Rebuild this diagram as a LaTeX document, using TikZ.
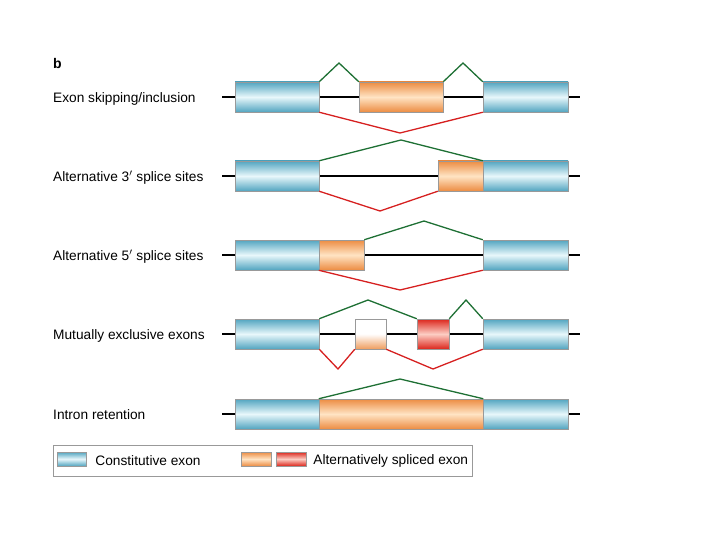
\documentclass[tikz,border=0pt]{standalone}
\usepackage{fontspec}
\setmainfont{Liberation Sans}
\usetikzlibrary{positioning}

\definecolor{exblue}{RGB}{82,165,192}
\definecolor{exblueL}{RGB}{232,247,251}
\definecolor{exorange}{RGB}{236,140,66}
\definecolor{exorangeL}{RGB}{255,228,196}
\definecolor{exred}{RGB}{220,38,28}
\definecolor{exredL}{RGB}{252,205,195}
\definecolor{spgreen}{RGB}{30,112,52}
\definecolor{spred}{RGB}{214,32,32}

\tikzset{
  exon/.style={draw=black!40, line width=0.5pt, minimum height=30pt, inner sep=0pt},
  constit/.style={exon, top color=exblue, bottom color=exblue, middle color=exblueL},
  altex/.style={exon, top color=exorange, bottom color=exorange, middle color=exorangeL},
  altred/.style={exon, top color=exred, bottom color=exred, middle color=exredL},
  altpale/.style={exon, top color=white, bottom color=exorange!85, middle color=white},
  intron/.style={line width=1.2pt},
  incl/.style={spgreen, line width=1.3pt},
  skip/.style={spred, line width=1.3pt},
  rowlabel/.style={anchor=west, inner sep=0pt, font=\fontsize{13.7}{16}\selectfont}
}

\begin{document}
\begin{tikzpicture}[x=1pt,y=-1pt]
\useasboundingbox (0,0) rectangle (720,540);

\node[anchor=west, inner sep=0pt, font=\fontsize{14}{16}\selectfont\bfseries] (panel) at (53,63) {b};

% Exon skipping/inclusion
\node[rowlabel] (lab1) at (53,99) {Exon skipping/inclusion};
\coordinate (l1) at (222,97);
\coordinate (r1) at (580,97);
\draw[intron] (l1)--(r1);
\node[constit, minimum width=84pt] (c1a) at (277,97) {};
\node[altex, minimum width=84pt] (a1) at (401,97) {};
\node[constit, minimum width=85pt] (c1b) at (525.5,97) {};
\coordinate (p1a) at (339,63);
\coordinate (p1b) at (463,63);
\coordinate (v1) at (400,133);
\draw[incl] (c1a.north east)--(p1a)--(a1.north west);
\draw[incl] (a1.north east)--(p1b)--(c1b.north west);
\draw[skip] (c1a.south east)--(v1)--(c1b.south west);

% Alternative 3' splice sites
\node[rowlabel] (lab2) at (53,178) {Alternative 3$'$ splice sites};
\coordinate (l2) at (222,176);
\coordinate (r2) at (580,176);
\draw[intron] (l2)--(r2);
\node[constit, minimum width=84pt] (c2a) at (277,176) {};
\node[altex, minimum width=45pt] (a2) at (460.5,176) {};
\node[constit, minimum width=85pt] (c2b) at (525.5,176) {};
\coordinate (p2) at (401,140);
\coordinate (v2) at (380,211);
\draw[incl] (c2a.north east)--(p2)--(c2b.north west);
\draw[skip] (c2a.south east)--(v2)--(a2.south west);

% Alternative 5' splice sites
\node[rowlabel] (lab3) at (53,257) {Alternative 5$'$ splice sites};
\coordinate (l3) at (222,255);
\coordinate (r3) at (580,255);
\draw[intron] (l3)--(r3);
\node[constit, minimum width=84pt] (c3a) at (277,255) {};
\node[altex, minimum width=45pt] (a3) at (341.5,255) {};
\node[constit, minimum width=85pt] (c3b) at (525.5,255) {};
\coordinate (p3) at (424,221);
\coordinate (v3) at (400,290);
\draw[incl] (a3.north east)--(p3)--(c3b.north west);
\draw[skip] (a3.south west)--(v3)--(c3b.south west);

% Mutually exclusive exons
\node[rowlabel] (lab4) at (53,336) {Mutually exclusive exons};
\coordinate (l4) at (222,334);
\coordinate (r4) at (580,334);
\draw[intron] (l4)--(r4);
\node[constit, minimum width=84pt] (c4a) at (277,334) {};
\node[altpale, minimum width=31pt] (a4) at (370.5,334) {};
\node[altred, minimum width=32pt] (m4) at (433,334) {};
\node[constit, minimum width=85pt] (c4b) at (525.5,334) {};
\coordinate (p4a) at (368,300);
\coordinate (p4b) at (466,300);
\coordinate (v4a) at (338,369);
\coordinate (v4b) at (433,369);
\draw[incl] (c4a.north east)--(p4a)--(m4.north west);
\draw[incl] (m4.north east)--(p4b)--(c4b.north west);
\draw[skip] (c4a.south east)--(v4a)--(a4.south west);
\draw[skip] (a4.south east)--(v4b)--(c4b.south west);

% Intron retention
\node[rowlabel] (lab5) at (53,415) {Intron retention};
\coordinate (l5) at (222,414);
\coordinate (r5) at (580,414);
\draw[line width=2.2pt] (l5)--(r5);
\node[constit, minimum width=84pt] (c5a) at (277,414) {};
\node[altex, minimum width=164pt] (a5) at (401,414) {};
\node[constit, minimum width=85pt] (c5b) at (525.5,414) {};
\coordinate (p5) at (400,379);
\draw[incl] (a5.north west)--(p5)--(a5.north east);

% Legend
\draw[black!40, line width=0.8pt] (53,445) rectangle (472,476);
\node[constit, minimum width=29pt, minimum height=14pt] (sw1) at (71.5,459) {};
\node[rowlabel, right=9pt of sw1, yshift=-1.5pt] (leg1) {Constitutive exon};
\node[altex, minimum width=30pt, minimum height=14pt] (sw2) at (256,459) {};
\node[altred, minimum width=30pt, minimum height=14pt] (sw3) at (291,459) {};
\node[rowlabel, right=7pt of sw3, yshift=-1.5pt] (leg2) {Alternatively spliced exon};

\end{tikzpicture}
\end{document}
